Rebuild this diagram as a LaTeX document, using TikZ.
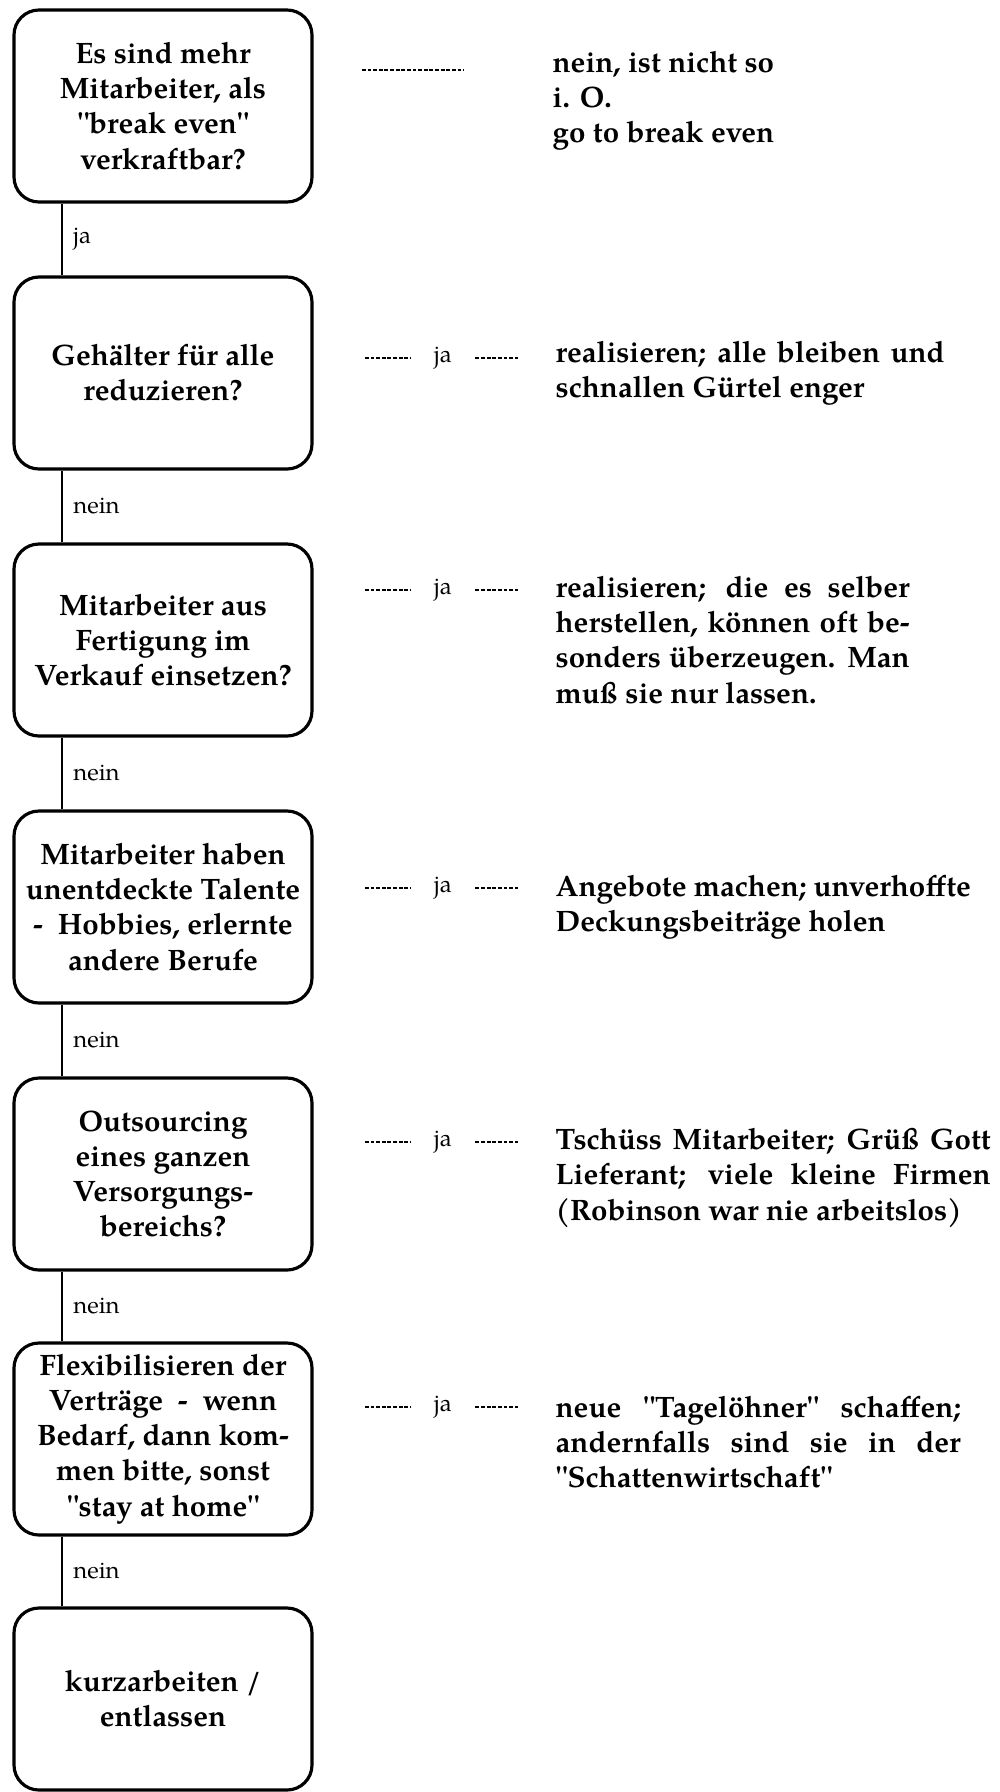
\documentclass[tikz,border=0pt]{standalone}
\usepackage{fontspec}
\setmainfont{TeX Gyre Pagella}[Ligatures=TeXOff]
\usepackage{tikz}
\usetikzlibrary{positioning}
\tikzstyle{question} = [rectangle, rounded corners=0.25cm, draw=black, line width=0.9pt, minimum width=2.98cm,
                        minimum height=1.92cm, align=center, inner sep=1pt, font=\fontsize{8.4}{10}\selectfont\bfseries]
\tikzstyle{answer} = [anchor=west, align=left, inner sep=0pt, font=\fontsize{8.4}{10}\selectfont\bfseries]
\tikzstyle{branch} = [inner sep=0.1cm, font=\fontsize{6.8}{8}\selectfont]
\tikzstyle{yes} = [inner xsep=0.23cm, inner ysep=0pt, font=\fontsize{6.8}{8}\selectfont]
\tikzstyle{link} = [line width=0.6pt]
\tikzstyle{dashline} = [line width=0.4pt, dash pattern=on 1.1pt off 0.5pt]
\newcommand{\spread}[2]{\makebox[#1][s]{#2}}

\begin{document}
\begin{tikzpicture}
				\useasboundingbox (0, 0) rectangle (10, -17.92);

				% break even
				\node (Q1) [question] at (1.63, -1.06) {Es sind mehr\\Mitarbeiter, als\\"break even"\\verkraftbar?};
				\coordinate (D1a) at (3.62, -0.70);
				\coordinate (D1b) at (4.64, -0.70);
				\draw [dashline] (D1a) -- (D1b);
				\node (A1) [answer] at (5.52, -1.01) {nein, ist nicht so\\i. O.\\go to break even};

				% salaries
				\node (Q2) [question] at (1.63, -3.73) {Gehälter für alle\\reduzieren?};
				\draw [link] ([xshift=0.5cm]Q1.south west) -- ([xshift=0.5cm]Q2.north west) node [midway, right, branch] {ja};
				\coordinate (D2a) at (3.65, -3.58);
				\node (J2) [yes] at (4.43, -3.58) {ja};
				\coordinate (D2b) at (5.18, -3.58);
				\draw [dashline] (D2a) -- (J2) -- (D2b);
				\node (A2) [answer] at (5.55, -3.73) {\spread{3.89cm}{realisieren; alle bleiben und}\\schnallen Gürtel enger};

				% production to sales
				\node (Q3) [question] at (1.63, -6.40) {Mitarbeiter aus\\Fertigung im\\Verkauf einsetzen?};
				\draw [link] ([xshift=0.5cm]Q2.south west) -- ([xshift=0.5cm]Q3.north west) node [midway, right, branch] {nein};
				\coordinate (D3a) at (3.65, -5.90);
				\node (J3) [yes] at (4.43, -5.90) {ja};
				\coordinate (D3b) at (5.18, -5.90);
				\draw [dashline] (D3a) -- (J3) -- (D3b);
				\node (A3) [answer] at (5.55, -6.40) {\spread{3.54cm}{realisieren; die es selber}\\
					\spread{3.54cm}{herstellen, können oft be-}\\
					\spread{3.54cm}{sonders überzeugen. Man}\\
					muß sie nur lassen.};

				% talents
				\node (Q4) [question] at (1.63, -9.07) {Mitarbeiter haben\\unentdeckte Talente\\- \ Hobbies, erlernte\\andere Berufe};
				\draw [link] ([xshift=0.5cm]Q3.south west) -- ([xshift=0.5cm]Q4.north west) node [midway, right, branch] {nein};
				\coordinate (D4a) at (3.65, -8.88);
				\node (J4) [yes] at (4.43, -8.88) {ja};
				\coordinate (D4b) at (5.18, -8.88);
				\draw [dashline] (D4a) -- (J4) -- (D4b);
				\node (A4) [answer] at (5.55, -9.07) {Angebote machen; unverhoffte\\Deckungsbeiträge holen};

				% outsourcing
				\node (Q5) [question] at (1.63, -11.74) {Outsourcing\\eines ganzen\\Versorgungs-\\bereichs?};
				\draw [link] ([xshift=0.5cm]Q4.south west) -- ([xshift=0.5cm]Q5.north west) node [midway, right, branch] {nein};
				\coordinate (D5a) at (3.65, -11.42);
				\node (J5) [yes] at (4.43, -11.42) {ja};
				\coordinate (D5b) at (5.18, -11.42);
				\draw [dashline] (D5a) -- (J5) -- (D5b);
				\node (A5) [answer] at (5.55, -11.78) {\spread{4.35cm}{Tschüss Mitarbeiter; Grüß Gott}\\
					\spread{4.35cm}{Lieferant; viele kleine Firmen}\\
					(Robinson war nie arbeitslos)};

				% flexible contracts
				\node (Q6) [question] at (1.63, -14.39) {Flexibilisieren der\\Verträge \ - \ wenn\\Bedarf, dann kom-\\men bitte, sonst\\"stay at home"};
				\draw [link] ([xshift=0.5cm]Q5.south west) -- ([xshift=0.5cm]Q6.north west) node [midway, right, branch] {nein};
				\coordinate (D6a) at (3.65, -14.07);
				\node (J6) [yes] at (4.43, -14.07) {ja};
				\coordinate (D6b) at (5.18, -14.07);
				\draw [dashline] (D6a) -- (J6) -- (D6b);
				\node (A6) [answer] at (5.55, -14.42) {\spread{4.05cm}{neue "Tagelöhner" schaffen;}\\
					\spread{4.05cm}{andernfalls sind sie in der}\\
					"Schattenwirtschaft"};

				% last resort
				\node (Q7) [question, minimum height=1.82cm] at (1.63, -16.99) {kurzarbeiten /\\entlassen};
				\draw [link] ([xshift=0.5cm]Q6.south west) -- ([xshift=0.5cm]Q7.north west) node [midway, right, branch] {nein};
			\end{tikzpicture}
\end{document}
